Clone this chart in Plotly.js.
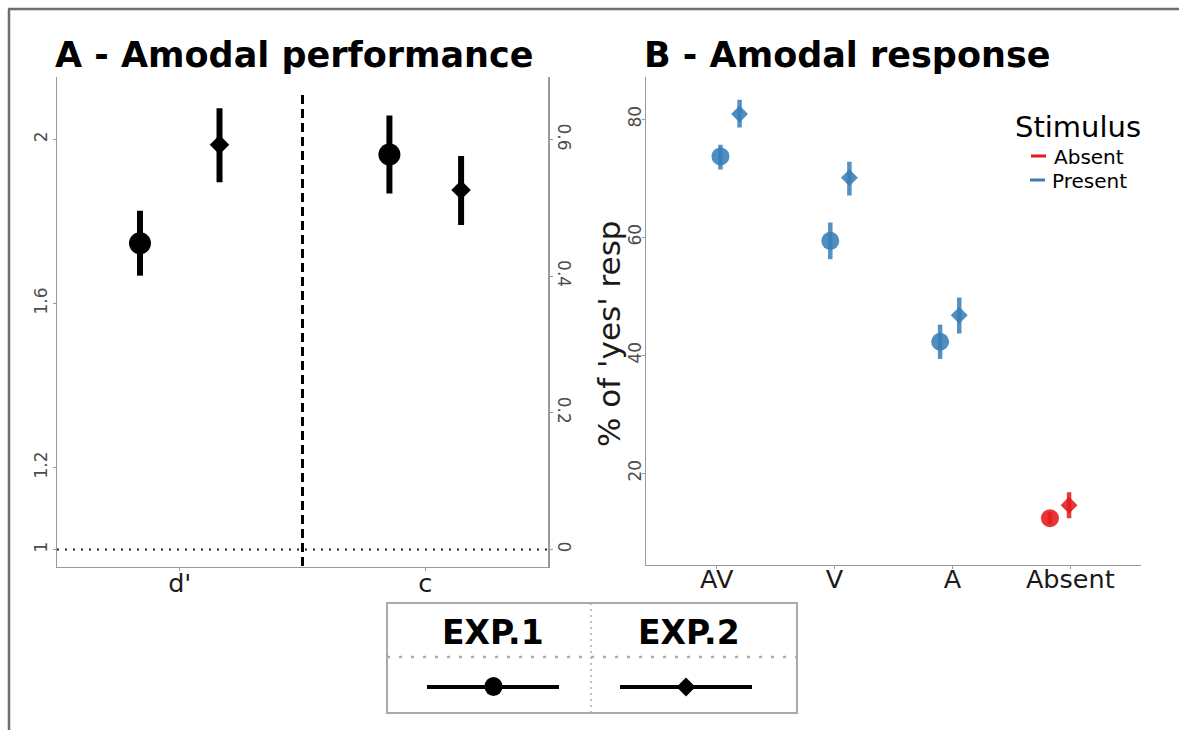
<!DOCTYPE html>
<html><head><meta charset="utf-8">
<script src="https://cdn.plot.ly/plotly-3.0.1.min.js"></script>
<style>html,body{margin:0;padding:0;background:#fff}#chart{width:1179px;height:730px}</style>
</head><body><div id="chart"></div>
<script>
// ---------- Panel A : Amodal performance ----------
const perfMeasures = ["d'", "c"];
const perfExp1 = [1.747, 0.578];
const perfExp1Low = [1.668, 0.521];
const perfExp1High = [1.826, 0.635];
const perfExp2 = [1.987, 0.526];
const perfExp2Low = [1.896, 0.475];
const perfExp2High = [2.076, 0.576];
const dprimeTicks = [1, 1.2, 1.6, 2];
const criterionTicks = [0, 0.2, 0.4, 0.6];

// ---------- Panel B : Amodal response ----------
const stimConditions = ["AV", "V", "A", "Absent"];
const stimulusType = ["Present", "Present", "Present", "Absent"];
const yesExp1 = [73.7, 59.4, 42.3, 12.4];
const yesExp1Low = [71.5, 56.3, 39.4, 11.4];
const yesExp1High = [75.7, 62.5, 45.2, 13.4];
const yesExp2 = [80.9, 70.1, 46.8, 14.6];
const yesExp2Low = [78.6, 67.1, 43.7, 12.4];
const yesExp2High = [83.3, 72.8, 49.8, 16.8];
const yesTicks = [20, 40, 60, 80];

const experiments = ["EXP.1", "EXP.2"];
const stimulusLevels = ["Absent", "Present"];

// ---------- styling ----------
const W = 1179, H = 730;
const fx = p => p / W;
const fy = p => 1 - p / H;
const FONT = "DejaVu Sans";
const stimColors = { Absent: "#E41A1C", Present: "#377EB8" };
const stimRGBA = { Absent: "rgba(228,26,28,0.85)", Present: "rgba(55,126,184,0.85)" };
const expSymbols = ["circle", "diamond"];
const axisGray = "#9a9a9a";
const perfDodge = [0.162, 0.146];

// Panel B: points use a slightly compressed scale relative to the category ticks
const tickRangeB = [-0.6, 3.6];
const pointRangeB = [-0.765, 3.742];
const tickPosB = i => pointRangeB[0] + (i - tickRangeB[0]) / (tickRangeB[1] - tickRangeB[0]) * (pointRangeB[1] - pointRangeB[0]);

const traces = [];

// Panel A traces: d' on left axis, c on right axis
const perfSets = [
  { vals: perfExp1, lo: perfExp1Low, hi: perfExp1High, side: -1, sym: 0 },
  { vals: perfExp2, lo: perfExp2Low, hi: perfExp2High, side: 1, sym: 1 }
];
perfSets.forEach(s => {
  perfMeasures.forEach((m, i) => {
    traces.push({
      type: "scatter", mode: "markers",
      x: [i + s.side * perfDodge[i]], y: [s.vals[i]],
      xaxis: "x", yaxis: i === 0 ? "y" : "y2",
      marker: { symbol: expSymbols[s.sym], size: s.sym === 0 ? 22 : 15, color: "#000", line: { width: 0 } },
      error_y: { type: "data", symmetric: false,
        array: [s.hi[i] - s.vals[i]], arrayminus: [s.vals[i] - s.lo[i]],
        thickness: 6, width: 0, color: "#000" },
      showlegend: false, hoverinfo: "skip"
    });
  });
});

// Panel B traces
const yesSets = [
  { vals: yesExp1, lo: yesExp1Low, hi: yesExp1High, dodge: -0.087, sym: 0 },
  { vals: yesExp2, lo: yesExp2Low, hi: yesExp2High, dodge: 0.087, sym: 1 }
];
yesSets.forEach(s => {
  stimulusLevels.forEach(level => {
    const idx = stimConditions.map((c, i) => i).filter(i => stimulusType[i] === level);
    traces.push({
      type: "scatter", mode: "markers",
      x: idx.map(i => i + s.dodge), y: idx.map(i => s.vals[i]),
      xaxis: "x3", yaxis: "y3",
      marker: { symbol: expSymbols[s.sym], size: s.sym === 0 ? 18 : 13, color: stimColors[level], opacity: 0.88, line: { width: 0 } },
      error_y: { type: "data", symmetric: false,
        array: idx.map(i => s.hi[i] - s.vals[i]), arrayminus: idx.map(i => s.vals[i] - s.lo[i]),
        thickness: 4.5, width: 0, color: stimRGBA[level] },
      showlegend: false, hoverinfo: "skip"
    });
  });
});

const yDomA = [fy(566.5), fy(77)];
const yDomB = [fy(564.5), fy(77)];
const yA = [0.9587, 2.1524];
const baseAxis = {
  showline: true, linecolor: axisGray, linewidth: 1.5,
  ticks: "outside", ticklen: 3, tickcolor: axisGray, tickwidth: 1,
  showgrid: false, zeroline: false, fixedrange: true
};
const yTickFont = { family: FONT, size: 17, color: "#4d4d4d" };
const xTickFont = { family: FONT, size: 25.5, color: "#1a1a1a" };

const shapes = [
  // outer frame (top and left)
  { type: "line", xref: "paper", yref: "paper", x0: fx(8), x1: 1, y0: fy(9), y1: fy(9), line: { color: "#6e6e6e", width: 2.5 } },
  { type: "line", xref: "paper", yref: "paper", x0: fx(9), x1: fx(9), y0: fy(9), y1: 0, line: { color: "#6e6e6e", width: 2.5 } },
  // panel A dotted reference line (d' = 1 / c = 0)
  { type: "line", xref: "x domain", yref: "y", x0: 0, x1: 1, y0: 1, y1: 1, line: { color: "#222", width: 2, dash: "2px,6px" } },
  // panel A dashed separator
  { type: "line", xref: "x", yref: "paper", x0: 0.5, x1: 0.5, y0: fy(566), y1: fy(92), line: { color: "#000", width: 3, dash: "9px,5px" } },
  // Stimulus legend keys
  { type: "line", xref: "paper", yref: "paper", x0: fx(1031), x1: fx(1046), y0: fy(156), y1: fy(156), line: { color: stimColors.Absent, width: 3 } },
  { type: "line", xref: "paper", yref: "paper", x0: fx(1030), x1: fx(1045), y0: fy(180), y1: fy(180), line: { color: stimColors.Present, width: 3 } },
  // experiment legend box
  { type: "rect", xref: "paper", yref: "paper", x0: fx(387), x1: fx(797), y0: fy(713), y1: fy(603), line: { color: "#aaa", width: 2 }, fillcolor: "rgba(0,0,0,0)" },
  { type: "line", xref: "paper", yref: "paper", x0: fx(591), x1: fx(591), y0: fy(713), y1: fy(603), line: { color: "#aaa", width: 1.5, dash: "2px,4px" } },
  { type: "line", xref: "paper", yref: "paper", x0: fx(387), x1: fx(797), y0: fy(657), y1: fy(657), line: { color: "#aaa", width: 2.5, dash: "3px,9px" } },
  { type: "line", xref: "paper", yref: "paper", x0: fx(427), x1: fx(559), y0: fy(687), y1: fy(687), line: { color: "#000", width: 4 } },
  { type: "line", xref: "paper", yref: "paper", x0: fx(620), x1: fx(752), y0: fy(687), y1: fy(687), line: { color: "#000", width: 4 } },
  { type: "circle", xref: "paper", yref: "paper", x0: fx(484.5), x1: fx(502.5), y0: fy(696), y1: fy(677), fillcolor: "#000", line: { width: 0 } },
  { type: "path", xref: "paper", yref: "paper",
    path: `M${fx(676.5)},${fy(687)} L${fx(686)},${fy(677.5)} L${fx(695.5)},${fy(687)} L${fx(686)},${fy(696.5)} Z`,
    fillcolor: "#000", line: { width: 0 } }
];

const annotations = [
  { text: "<b>A - Amodal performance</b>", xref: "paper", yref: "paper", x: fx(53), y: fy(55), xanchor: "left", yanchor: "middle", showarrow: false, font: { family: FONT, size: 35, color: "#000" } },
  { text: "<b>B - Amodal response</b>", xref: "paper", yref: "paper", x: fx(642), y: fy(55), xanchor: "left", yanchor: "middle", showarrow: false, font: { family: FONT, size: 35, color: "#000" } },
  { text: "% of 'yes' resp", xref: "paper", yref: "paper", x: fx(609), y: fy(334), textangle: -90, xanchor: "center", yanchor: "middle", showarrow: false, font: { family: FONT, size: 31, color: "#1a1a1a" } },
  { text: "Stimulus", xref: "paper", yref: "paper", x: fx(1013), y: fy(127), xanchor: "left", yanchor: "middle", showarrow: false, font: { family: FONT, size: 29, color: "#000" } },
  { text: stimulusLevels[0], xref: "paper", yref: "paper", x: fx(1052), y: fy(157), xanchor: "left", yanchor: "middle", showarrow: false, font: { family: FONT, size: 20, color: "#000" } },
  { text: stimulusLevels[1], xref: "paper", yref: "paper", x: fx(1050), y: fy(181), xanchor: "left", yanchor: "middle", showarrow: false, font: { family: FONT, size: 20, color: "#000" } },
  { text: "<b>" + experiments[0] + "</b>", xref: "paper", yref: "paper", x: fx(492.5), y: fy(632), xanchor: "center", yanchor: "middle", showarrow: false, font: { family: FONT, size: 33, color: "#000" } },
  { text: "<b>" + experiments[1] + "</b>", xref: "paper", yref: "paper", x: fx(688.5), y: fy(632), xanchor: "center", yanchor: "middle", showarrow: false, font: { family: FONT, size: 33, color: "#000" } }
];

const layout = {
  width: W, height: H,
  margin: { l: 0, r: 0, t: 0, b: 0 },
  paper_bgcolor: "#fff", plot_bgcolor: "rgba(0,0,0,0)",
  showlegend: false,
  font: { family: FONT },
  xaxis: Object.assign({}, baseAxis, { domain: [fx(57), fx(548)], anchor: "y", range: [-0.5, 1.5], tickvals: [0, 1], ticktext: perfMeasures, tickfont: xTickFont, ticklabelstandoff: -10 }),
  yaxis: Object.assign({}, baseAxis, { domain: yDomA, anchor: "x", range: yA, tickvals: dprimeTicks, tickangle: -90, tickfont: yTickFont, ticklabelstandoff: -1 }),
  yaxis2: Object.assign({}, baseAxis, { overlaying: "y", side: "right", anchor: "x", range: [(yA[0] - 1) * 0.6, (yA[1] - 1) * 0.6], tickvals: criterionTicks, tickangle: 90, tickfont: yTickFont, ticklabelstandoff: -1 }),
  xaxis3: Object.assign({}, baseAxis, { domain: [fx(646), fx(1141)], anchor: "y3", range: pointRangeB, tickvals: stimConditions.map((c, i) => tickPosB(i)), ticktext: stimConditions, tickfont: xTickFont, ticklabelstandoff: -12 }),
  yaxis3: Object.assign({}, baseAxis, { domain: yDomB, anchor: "x3", range: [4.55, 87.17], tickvals: yesTicks, tickangle: -90, tickfont: yTickFont, ticklabelstandoff: -6 }),
  shapes: shapes,
  annotations: annotations
};

Plotly.newPlot("chart", traces, layout, { displayModeBar: false, staticPlot: true });
</script>
</body></html>
